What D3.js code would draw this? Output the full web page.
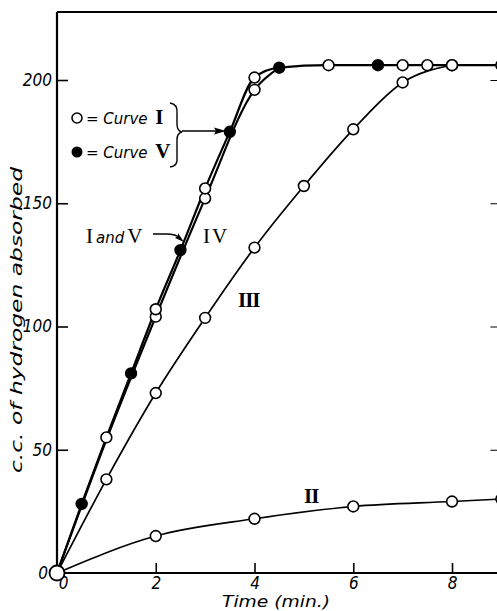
<!DOCTYPE html>
<html>
<head>
<meta charset="utf-8">
<script src="https://cdn.jsdelivr.net/npm/d3@7/dist/d3.min.js"></script>
<style>
  body { margin: 0; background: #fff; }
  svg { display: block; }
  .tick text { font-family: "Liberation Sans Narrow", "DejaVu Sans Condensed", sans-serif; font-style: italic; font-size: 17px; }
  .roman { font-family: "Liberation Serif", "DejaVu Serif", serif; font-size: 21px; }
  .ital { font-family: "DejaVu Sans", sans-serif; font-style: italic; }
</style>
</head>
<body>
<svg id="chart" width="497" height="611"></svg>
<script>
// time ticks and value ticks
var timeTicks = [0, 2, 4, 6, 8];
var valueTicks = [0, 50, 100, 150, 200];

// curve I (open circles), shares its line with curve V
var curveI = [[0, 0], [1, 55], [2, 107], [3, 156], [4, 201], [5.5, 206], [7, 206], [7.5, 206], [8, 206], [9, 206]];
// curve V (filled circles)
var curveV = [[0.5, 28], [1.5, 81], [2.5, 131], [3.5, 179], [4.5, 205], [6.5, 206]];
// curve IV
var curveIV = [[0, 0], [1, 54], [2, 104], [3, 152], [4, 196], [4.5, 205]];
var ivMarked = [2, 3, 4];
// curve III
var curveIII = [[0, 0], [1, 38], [2, 73], [3, 103.5], [4, 132], [5, 157], [6, 180], [7, 199], [8, 206]];
// curve II
var curveII = [[0, 0], [2, 15], [4, 22], [6, 27], [8, 29], [9, 30]];

var svg = d3.select("#chart");

var x = d3.scaleLinear().domain([0, 9]).range([57, 501.4]);
var y = d3.scaleLinear().domain([0, 200]).range([573, 80]);
var yTop = y(227.6);

var line = d3.line()
  .x(function(d){ return x(d[0]); })
  .y(function(d){ return y(d[1]); })
  .curve(d3.curveMonotoneX);

// frame
svg.append("line").attr("x1", x(0)).attr("x2", x(9)).attr("y1", yTop).attr("y2", yTop)
  .attr("stroke", "#000").attr("stroke-width", 2);
svg.append("line").attr("x1", x(9)).attr("x2", x(9)).attr("y1", yTop).attr("y2", y(0))
  .attr("stroke", "#000").attr("stroke-width", 2);

// axes with inward ticks
var xAxis = svg.append("g")
  .attr("transform", "translate(0," + y(0) + ")")
  .call(d3.axisBottom(x).tickValues(timeTicks).tickSize(-10).tickPadding(4).tickFormat(d3.format("d")));
var yAxis = svg.append("g")
  .attr("transform", "translate(" + x(0) + ",0)")
  .call(d3.axisLeft(y).tickValues(valueTicks).tickSize(-11).tickPadding(5).tickFormat(d3.format("d")));
svg.append("g")
  .attr("transform", "translate(" + x(9) + ",0)")
  .call(d3.axisRight(y).tickValues(valueTicks.slice(1)).tickSize(-11).tickFormat(""))
  .select(".domain").remove();

[xAxis, yAxis].forEach(function(g){
  g.select(".domain").remove();
  g.selectAll(".tick line").attr("stroke-width", 1.6);
  g.selectAll(".tick text").attr("fill", "#000");
});
svg.append("line").attr("x1", x(0)).attr("x2", x(9)).attr("y1", y(0)).attr("y2", y(0))
  .attr("stroke", "#000").attr("stroke-width", 2.2);
svg.append("line").attr("x1", x(0)).attr("x2", x(0)).attr("y1", yTop).attr("y2", y(0))
  .attr("stroke", "#000").attr("stroke-width", 2.2);

// no tick mark at the origin, shift the zero labels clear of the circle
xAxis.selectAll(".tick").filter(function(d){ return d === 0; }).select("line").remove();
yAxis.selectAll(".tick").filter(function(d){ return d === 0; }).select("line").remove();
xAxis.selectAll(".tick").filter(function(d){ return d === 0; }).select("text").attr("dx", 6);
yAxis.selectAll(".tick").filter(function(d){ return d === 0; }).select("text").attr("dx", -4);

// lines
var combinedIV = curveI.concat(curveV).sort(function(a, b){ return a[0] - b[0]; });
svg.append("path").attr("d", line(combinedIV)).attr("fill", "none").attr("stroke", "#000").attr("stroke-width", 2.2);
svg.append("path").attr("d", line(curveIV)).attr("fill", "none").attr("stroke", "#000").attr("stroke-width", 2.2);
svg.append("path").attr("d", line(curveIII)).attr("fill", "none").attr("stroke", "#000").attr("stroke-width", 1.7);
svg.append("path").attr("d", line(curveII)).attr("fill", "none").attr("stroke", "#000").attr("stroke-width", 1.6);

// markers
function markers(data, filled){
  svg.append("g").selectAll("circle")
    .data(data.filter(function(d){ return d[0] > 0; }))
    .enter()
    .append("circle")
    .attr("cx", function(d){ return x(d[0]); })
    .attr("cy", function(d){ return y(d[1]); })
    .attr("r", 5.4)
    .attr("fill", filled ? "#000" : "#fff")
    .attr("stroke", "#000")
    .attr("stroke-width", 1.6);
}
markers(curveIII, false);
markers(curveII, false);
markers(curveIV.filter(function(d){ return ivMarked.indexOf(d[0]) >= 0; }), false);
markers(curveI, false);
markers(curveV, true);
svg.append("circle").attr("cx", x(0)).attr("cy", y(0)).attr("r", 7.5)
  .attr("fill", "#fff").attr("stroke", "#000").attr("stroke-width", 1.8);

// axis titles
svg.append("text").attr("class", "ital")
  .attr("transform", "translate(22,320) rotate(-90)")
  .attr("text-anchor", "middle").attr("font-size", 16)
  .attr("textLength", 306).attr("lengthAdjust", "spacingAndGlyphs")
  .text("c.c. of hydrogen absorbed");
svg.append("text").attr("class", "ital")
  .attr("x", 276).attr("y", 607)
  .attr("text-anchor", "middle").attr("font-size", 15)
  .attr("textLength", 108).attr("lengthAdjust", "spacingAndGlyphs")
  .text("Time (min.)");

// legend
svg.append("circle").attr("cx", 77).attr("cy", 118).attr("r", 5)
  .attr("fill", "#fff").attr("stroke", "#000").attr("stroke-width", 1.6);
svg.append("circle").attr("cx", 77).attr("cy", 152).attr("r", 5.5).attr("fill", "#000");
[[124, "I"], [158, "V"]].forEach(function(r){
  var t = svg.append("text").attr("x", 86).attr("y", r[0]);
  t.append("tspan").attr("class", "ital").attr("font-size", 15).text("= Curve ");
  t.append("tspan").attr("class", "roman").attr("font-weight", "bold").attr("font-size", 18).attr("dx", 3).text(r[1]);
});
// brace and arrow
svg.append("path")
  .attr("d", "M170,103 Q178,104 177,114 L177,124 Q177,131 182,132 Q177,133 177,140 L177,158 Q178,166 170,167")
  .attr("fill", "none").attr("stroke", "#000").attr("stroke-width", 1.4);
svg.append("line").attr("x1", 182).attr("x2", 222).attr("y1", 131).attr("y2", 131)
  .attr("stroke", "#000").attr("stroke-width", 1.3);
svg.append("path").attr("d", "M226,131 L214,127.5 L216,131 L214,134.5 Z").attr("fill", "#000");

// curve labels
var lab = svg.append("text").attr("x", 86).attr("y", 243);
lab.append("tspan").attr("class", "roman").text("I");
lab.append("tspan").attr("class", "ital").attr("font-size", 15).attr("dx", 3).text("and");
lab.append("tspan").attr("class", "roman").attr("dx", 3).text("V");
svg.append("path").attr("d", "M153,234 L166,234 Q176,234 180,238")
  .attr("fill", "none").attr("stroke", "#000").attr("stroke-width", 1.3);
svg.append("path").attr("d", "M184,242 L175,238 L178,236 L178,233 Z").attr("fill", "#000");
svg.append("text").attr("class", "roman").attr("x", 203).attr("y", 243).attr("letter-spacing", 2).text("IV");
svg.append("text").attr("class", "roman").attr("x", 238).attr("y", 307).attr("letter-spacing", -1).attr("font-weight", "bold").text("III");
svg.append("text").attr("class", "roman").attr("x", 304).attr("y", 503).attr("letter-spacing", -1).attr("font-weight", "bold").text("II");
</script>
</body>
</html>
